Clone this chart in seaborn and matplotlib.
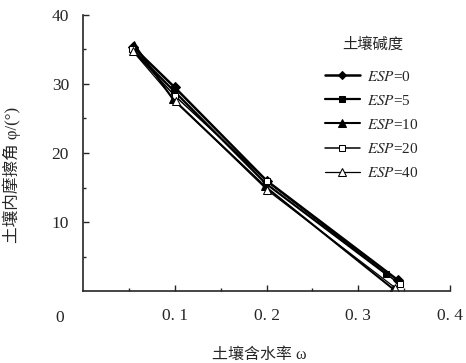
import pandas as pd
import matplotlib
matplotlib.use("Agg")
import matplotlib.pyplot as plt
import seaborn as sns

# Data
esp_labels = ["0", "5", "10", "20", "40"]
water_esp0 = [0.055, 0.100, 0.200, 0.343]
water_esp5 = [0.054, 0.099, 0.199, 0.330]
water_esp10 = [0.056, 0.098, 0.198, 0.338]
water_esp20 = [0.053, 0.100, 0.200, 0.345]
water_esp40 = [0.054, 0.101, 0.201, 0.340]
phi_esp0 = [35.3, 29.5, 16.0, 1.6]
phi_esp5 = [35.0, 29.0, 15.6, 2.5]
phi_esp10 = [35.7, 27.8, 15.2, 0.3]
phi_esp20 = [35.0, 28.3, 16.0, 1.0]
phi_esp40 = [34.8, 27.5, 14.6, 0.5]

xs = [water_esp0, water_esp5, water_esp10, water_esp20, water_esp40]
ys = [phi_esp0, phi_esp5, phi_esp10, phi_esp20, phi_esp40]

rows = []
for lab, xv, yv in zip(esp_labels, xs, ys):
    for a, b in zip(xv, yv):
        rows.append({"ESP": lab, "w": a, "phi": b})
df = pd.DataFrame(rows)

sns.set_style("ticks")
plt.rcParams["font.family"] = ["Liberation Serif", "Noto Sans CJK SC"]
plt.rcParams["mathtext.fontset"] = "stix"

fig = plt.figure(figsize=(4.66, 3.63), dpi=100)
ax = fig.add_axes([0.178, 0.198, 0.788, 0.761])

styles = {
    "0": dict(marker="D", mfc="black", lw=1.8, ms=5),
    "5": dict(marker="s", mfc="black", lw=1.6, ms=5),
    "10": dict(marker="^", mfc="black", lw=1.5, ms=6),
    "20": dict(marker="s", mfc="white", lw=1.1, ms=5),
    "40": dict(marker="^", mfc="white", lw=0.9, ms=6),
}

for lab in esp_labels:
    sub = df[df["ESP"] == lab]
    st = styles[lab]
    sns.lineplot(data=sub, x="w", y="phi", ax=ax, color="black", sort=False,
                 marker=st["marker"], markerfacecolor=st["mfc"],
                 markeredgecolor="black", markersize=st["ms"], linewidth=st["lw"],
                 label=f"$ESP$=" + lab)

ax.set_xlim(0, 0.4)
ax.set_ylim(0, 40)
ax.set_xticks([0.1, 0.2, 0.3, 0.4])
ax.set_xticklabels(["0. 1", "0. 2", "0. 3", "0. 4"])
ax.set_xticks([0.05, 0.15, 0.25, 0.35], minor=True)
ax.set_yticks([10, 20, 30, 40])
ax.set_yticks([5, 15, 25, 35], minor=True)
ax.tick_params(axis="both", which="major", direction="in", length=4, width=1,
               labelsize=12.5)
ax.tick_params(axis="x", which="major", pad=12)
ax.tick_params(axis="y", which="major", pad=10)
ax.tick_params(axis="both", which="minor", direction="in", length=2.5, width=1)
ax.text(-0.063, -0.098, "0", transform=ax.transAxes, ha="center", va="center",
        fontsize=12.5)

sns.despine(ax=ax)
ax.spines["left"].set_linewidth(1.2)
ax.spines["bottom"].set_linewidth(1.2)

ax.set_xlabel("土壤含水率 ω", fontsize=11.5)
ax.xaxis.set_label_coords(0.48, -0.2)
ax.set_ylabel("土壤内摩擦角 φ/(°)", fontsize=12)
ax.yaxis.set_label_coords(-0.17, 0.42)

# legend title drawn separately to get the wider gap of the reference
fig.text(373 / 466, 1 - 44 / 363, "土壤碱度", ha="center", va="center",
         fontsize=11)
leg = ax.legend(loc="upper left",
                bbox_to_anchor=(317 / 466, 1 - 62 / 363),
                bbox_transform=fig.transFigure, borderpad=0,
                frameon=False, fontsize=11,
                handlelength=2.3, labelspacing=0.66, handletextpad=0.45,
                markerscale=0.85)

fig.savefig("out.png", dpi=100)
